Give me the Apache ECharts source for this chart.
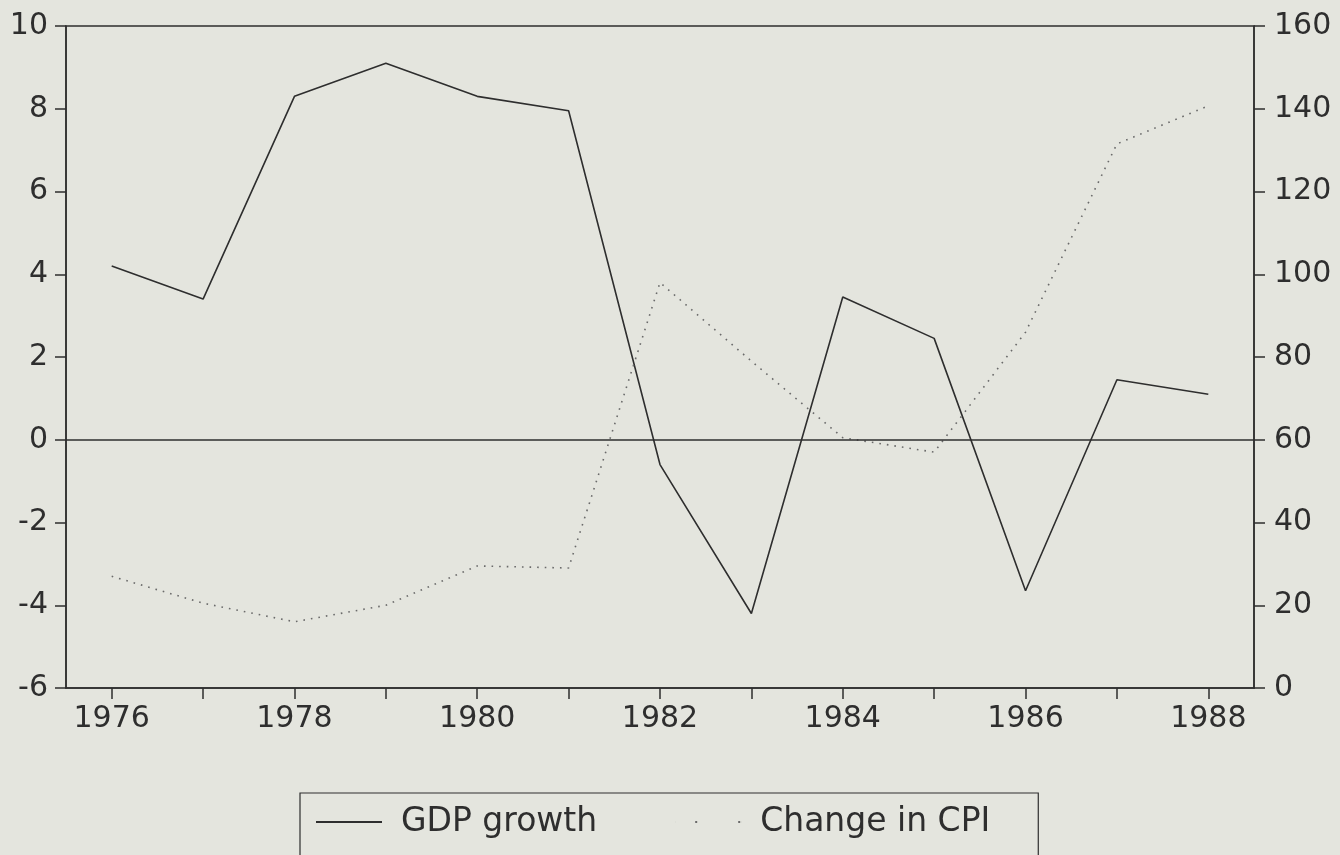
<!DOCTYPE html>
<html>
<head>
<meta charset="utf-8">
<script src="https://cdn.jsdelivr.net/npm/echarts@6/dist/echarts.min.js"></script>
<style>
html,body{margin:0;padding:0;background:#e4e5de;}
#chart{width:1340px;height:855px;}
</style>
</head>
<body>
<div id="chart"></div>
<script>
const years = ['1976','1977','1978','1979','1980','1981','1982','1983','1984','1985','1986','1987','1988'];
const gdpGrowth = [4.2, 3.4, 8.3, 9.1, 8.3, 7.95, -0.6, -4.2, 3.45, 2.45, -3.65, 1.45, 1.1];
const cpiChange = [27, 20.5, 16, 20, 29.5, 29, 98, 79, 60.5, 57, 86, 131.5, 140.7];
const seriesNames = ['GDP growth', 'Change in CPI'];

const ink = '#2e2e2e';
const dotInk = '#6a6a6a';
const font = 'DejaVu Sans, Liberation Sans, Arial, sans-serif';

const chart = echarts.init(document.getElementById('chart'));
chart.setOption({
  backgroundColor: '#e4e5de',
  animation: false,
  grid: {left: 66, right: 86, top: 26, bottom: 167, show: true, borderColor: ink, borderWidth: 1.5, backgroundColor: 'transparent'},
  legend: {
    data: [
      {name: seriesNames[0], icon: 'path://M0,0 H66 V2 H0 Z'},
      {name: seriesNames[1], icon: 'path://M0,0 H0.05 V2 H0 Z M20,0 H22 V2 H20 Z M63,0 H65 V2 H63 Z M65.95,0 H66 V2 H65.95 Z'}
    ],
    left: 300, top: 793,
    orient: 'horizontal',
    padding: [11, 48, 50, 16],
    itemWidth: 66, itemHeight: 2, itemGap: 78,
    borderColor: ink, borderWidth: 1.2,
    textStyle: {fontFamily: font, fontSize: 33, color: ink, padding: [0, 0, 0, 14], lineHeight: 36},
    selectedMode: false
  },
  xAxis: {
    type: 'category',
    data: years,
    boundaryGap: true,
    axisLine: {show: true, onZero: false, lineStyle: {color: ink, width: 1.5}},
    axisTick: {show: true, alignWithLabel: true, interval: 0, length: 11, lineStyle: {color: ink, width: 1.5}},
    axisLabel: {interval: 1, fontFamily: font, fontSize: 30, color: ink, margin: 16},
    splitLine: {show: false}
  },
  yAxis: [
    {
      type: 'value', min: -6, max: 10, interval: 2, position: 'left',
      axisLine: {show: true, lineStyle: {color: ink, width: 1.5}},
      axisTick: {show: true, length: 11, lineStyle: {color: ink, width: 1.5}},
      axisLabel: {fontFamily: font, fontSize: 30, color: ink, margin: 18},
      splitLine: {show: false}
    },
    {
      type: 'value', min: 0, max: 160, interval: 20, position: 'right',
      axisLine: {show: true, lineStyle: {color: ink, width: 1.5}},
      axisTick: {show: true, length: 11, lineStyle: {color: ink, width: 1.5}},
      axisLabel: {fontFamily: font, fontSize: 30, color: ink, margin: 20},
      splitLine: {show: false}
    }
  ],
  series: [
    {
      name: seriesNames[0], type: 'line', yAxisIndex: 0,
      data: gdpGrowth, symbol: 'none', showSymbol: false,
      lineStyle: {color: ink, width: 1.6},
      itemStyle: {color: ink},
      markLine: {
        silent: true, symbol: 'none', label: {show: false},
        lineStyle: {color: ink, width: 1.5, type: 'solid'},
        data: [{yAxis: 0}]
      }
    },
    {
      name: seriesNames[1], type: 'line', yAxisIndex: 1,
      data: cpiChange, symbol: 'none', showSymbol: false,
      lineStyle: {color: dotInk, width: 1.6, type: [1.6, 6]},
      itemStyle: {color: dotInk}
    }
  ]
});
</script>
</body>
</html>
